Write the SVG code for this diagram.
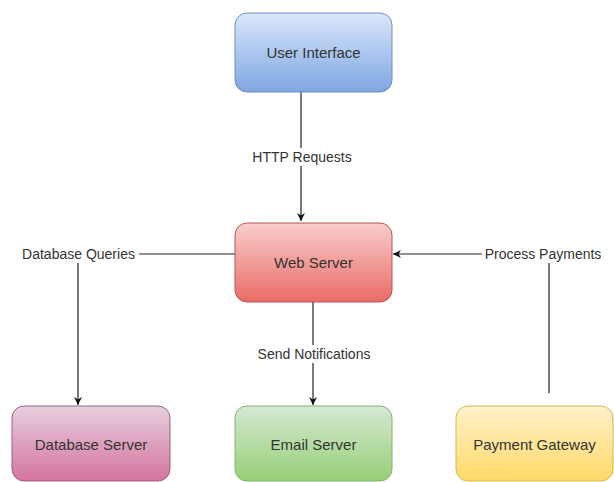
<svg xmlns="http://www.w3.org/2000/svg" width="614" height="482" viewBox="0 0 614 482">
<style>
.box{stroke-width:1}
.nt{font-family:"Liberation Sans",Arial,sans-serif;font-size:15px;fill:#333;text-anchor:middle;dominant-baseline:central}
.et{font-family:"Liberation Sans",Arial,sans-serif;font-size:14px;fill:#333;text-anchor:middle;dominant-baseline:central}
.ln{fill:none;stroke:#222;stroke-width:1.2}
.bg{fill:#fff}
</style>
<defs>
<linearGradient id="gBlue" x1="0" y1="0" x2="0" y2="1"><stop offset="0" stop-color="#dae8fc"/><stop offset="1" stop-color="#7ea6e0"/></linearGradient>
<linearGradient id="gRed" x1="0" y1="0" x2="0" y2="1"><stop offset="0" stop-color="#f8cecc"/><stop offset="1" stop-color="#ea6b66"/></linearGradient>
<linearGradient id="gPink" x1="0" y1="0" x2="0" y2="1"><stop offset="0" stop-color="#e6d0de"/><stop offset="1" stop-color="#d5739d"/></linearGradient>
<linearGradient id="gGreen" x1="0" y1="0" x2="0" y2="1"><stop offset="0" stop-color="#d5e8d4"/><stop offset="1" stop-color="#97d077"/></linearGradient>
<linearGradient id="gYellow" x1="0" y1="0" x2="0" y2="1"><stop offset="0" stop-color="#fff2cc"/><stop offset="1" stop-color="#ffd966"/></linearGradient>
<marker id="arr" viewBox="0 0 10 10" refX="10" refY="5" markerWidth="8" markerHeight="8" markerUnits="userSpaceOnUse" orient="auto"><path d="M0,0 L10,5 L0,10 L3,5 Z" fill="#111"/></marker>
</defs>
<rect width="614" height="482" fill="#fff"/>
<g id="connectors">
<g id="e-http"><path class="ln" d="M301,92 V221" marker-end="url(#arr)"/><rect class="bg" x="248" y="148" width="108" height="18"/><text class="et" x="302" y="157">HTTP Requests</text></g>
<g id="e-db"><path class="ln" d="M235,254 H78 V405" marker-end="url(#arr)"/><rect class="bg" x="18" y="245" width="121" height="18"/><text class="et" x="78.5" y="254">Database Queries</text></g>
<g id="e-email"><path class="ln" d="M313,302 V405" marker-end="url(#arr)"/><rect class="bg" x="254" y="345" width="120" height="18"/><text class="et" x="314" y="354">Send Notifications</text></g>
<g id="e-pay"><path class="ln" d="M549,393 V254 H393" marker-end="url(#arr)"/><rect class="bg" x="482" y="245" width="123" height="18"/><text class="et" x="543" y="254">Process Payments</text></g>
</g>
<g id="n-ui"><rect class="box" x="235" y="13" width="157" height="79" rx="12" fill="url(#gBlue)" stroke="#6c8ebf"/><text class="nt" x="313.5" y="52">User Interface</text></g>
<g id="n-web"><rect class="box" x="235" y="223" width="157" height="79" rx="12" fill="url(#gRed)" stroke="#b85450"/><text class="nt" x="313.5" y="262">Web Server</text></g>
<g id="n-db"><rect class="box" x="12" y="406" width="158" height="75" rx="12" fill="url(#gPink)" stroke="#996185"/><text class="nt" x="91" y="444">Database Server</text></g>
<g id="n-email"><rect class="box" x="235" y="406" width="157" height="75" rx="12" fill="url(#gGreen)" stroke="#82b366"/><text class="nt" x="313.5" y="444">Email Server</text></g>
<g id="n-pay"><rect class="box" x="456" y="406" width="157" height="75" rx="12" fill="url(#gYellow)" stroke="#d6b656"/><text class="nt" x="534.5" y="444">Payment Gateway</text></g>
</svg>
